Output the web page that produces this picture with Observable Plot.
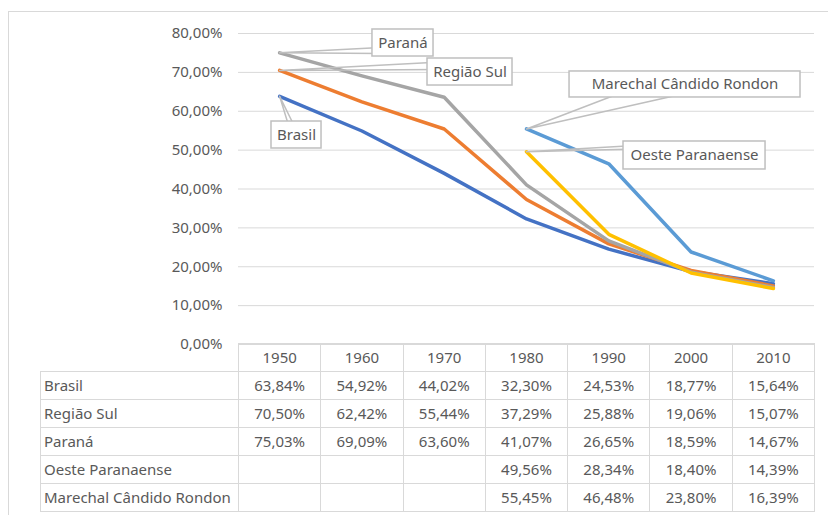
<!DOCTYPE html>
<html><head><meta charset="utf-8">
<script src="https://cdn.jsdelivr.net/npm/d3@7"></script>
<script src="https://cdn.jsdelivr.net/npm/@observablehq/plot@0.6"></script>
<style>
body{margin:0;background:#fff;}
#wrap{position:relative;width:828px;height:515px;overflow:hidden;font-family:"Noto Sans",sans-serif;background:#fff;}
#frame{position:absolute;left:8px;top:11px;width:840px;height:520px;border-left:1px solid #D9D9D9;border-top:1px solid #D9D9D9;}
#chart svg{position:absolute;left:0;top:0;}
table{position:absolute;left:40px;top:343px;border-collapse:collapse;table-layout:fixed;width:775px;font-family:"Noto Sans",sans-serif;font-size:15px;color:#595959;}
td{border:1px solid #D9D9D9;height:27px;padding:0;text-align:center;white-space:nowrap;line-height:27px;}
td.name{text-align:left;padding-left:3px;}
td.corner{border-top:none;border-left:none;}
</style></head>
<body><div id="wrap"><div id="frame"></div><div id="chart"></div></div>
<script>
// ---- data ----
const years = [1950, 1960, 1970, 1980, 1990, 2000, 2010];
const seriesNames = ["Brasil", "Região Sul", "Paraná", "Oeste Paranaense", "Marechal Cândido Rondon"];
const brasil    = [63.84, 54.92, 44.02, 32.30, 24.53, 18.77, 15.64];
const regiaoSul = [70.50, 62.42, 55.44, 37.29, 25.88, 19.06, 15.07];
const parana    = [75.03, 69.09, 63.60, 41.07, 26.65, 18.59, 14.67];
const oeste     = [null, null, null, 49.56, 28.34, 18.40, 14.39];
const marechal  = [null, null, null, 55.45, 46.48, 23.80, 16.39];
const yTicks = [0, 10, 20, 30, 40, 50, 60, 70, 80];

// ---- styling / annotation config ----
const seriesValues = [brasil, regiaoSul, parana, oeste, marechal];
const colors = ["#4472C4", "#ED7D31", "#A5A5A5", "#FFC000", "#5B9BD5"];
const fmt = v => v == null ? "" : v.toFixed(2).replace(".", ",") + "%";

// callout boxes in data units (year, percent) + leader wedge ends
const callouts = [
  {name: "Paraná", x1: 1961.28, x2: 1968.70, y1: 74.08, y2: 81.03, ea: [1962.3, 76.4], eb: [1962.3, 74.86]},
  {name: "Região Sul", x1: 1967.97, x2: 1978.30, y1: 66.62, y2: 73.57, ea: [1969.6, 72.67], eb: [1969.6, 70.74]},
  {name: "Brasil", x1: 1949.01, x2: 1955.09, y1: 50.42, y2: 57.36, ea: [1951.2, 55.56], eb: [1951.93, 55.56]},
  {name: "Marechal Cândido Rondon", x1: 1985.23, x2: 2013.30, y1: 63.54, y2: 70.23, ea: [1992.21, 65.34], eb: [2000.86, 65.34]},
  {name: "Oeste Paranaense", x1: 1991.79, x2: 2009.05, y1: 45.02, y2: 52.22, ea: [1993.25, 51.19], eb: [1993.25, 50.26]}
];

// ---- build tidy data ----
const long = [];
seriesNames.forEach((s, i) => {
  years.forEach((yr, j) => {
    const v = seriesValues[i][j];
    if (v != null) long.push({serie: s, year: yr, value: v});
  });
});
const leaders = [];
callouts.forEach(c => {
  const i = seriesNames.indexOf(c.name);
  const j = seriesValues[i].findIndex(v => v != null);
  leaders.push({name: c.name, x: c.ea[0], y: c.ea[1]});
  leaders.push({name: c.name, x: years[j], y: seriesValues[i][j]});
  leaders.push({name: c.name, x: c.eb[0], y: c.eb[1]});
});

const chart = Plot.plot({
  width: 828, height: 515,
  marginLeft: 238, marginRight: 14, marginTop: 33, marginBottom: 171,
  x: {domain: [1945, 2015], axis: null},
  y: {domain: [0, 80], axis: null},
  color: {domain: seriesNames, range: colors},
  style: {fontFamily: "Noto Sans", fontSize: "15px", color: "#595959", background: "transparent", overflow: "visible"},
  marks: [
    Plot.ruleY(yTicks, {stroke: "#D9D9D9", strokeWidth: 1}),
    Plot.axisY(yTicks, {tickSize: 0, tickPadding: 16, tickFormat: fmt, fontSize: 15, fill: "#595959"}),
    Plot.line(long, {x: "year", y: "value", z: "serie", stroke: "serie", strokeWidth: 3.5, strokeLinejoin: "round", strokeLinecap: "round"}),
    Plot.line(leaders, {x: "x", y: "y", z: "name", stroke: "#BFBFBF", strokeWidth: 1.5}),
    Plot.rect(callouts, {x1: "x1", x2: "x2", y1: "y1", y2: "y2", fill: "white", stroke: "#BFBFBF", strokeWidth: 1.5}),
    Plot.text(callouts, {x: d => (d.x1 + d.x2) / 2, y: d => (d.y1 + d.y2) / 2, text: "name", fill: "#595959", fontSize: 15})
  ]
});
document.getElementById("chart").appendChild(chart);

// ---- data table ----
const table = d3.select("#wrap").append("table");
const cg = table.append("colgroup");
cg.append("col").style("width", "198px");
years.forEach(() => cg.append("col").style("width", (576 / 7) + "px"));
const head = table.append("tr");
head.append("td").attr("class", "corner");
years.forEach(y => head.append("td").text(y));
seriesNames.forEach((s, i) => {
  const tr = table.append("tr");
  tr.append("td").attr("class", "name").text(s);
  seriesValues[i].forEach(v => tr.append("td").text(fmt(v)));
});
</script>
</body></html>
